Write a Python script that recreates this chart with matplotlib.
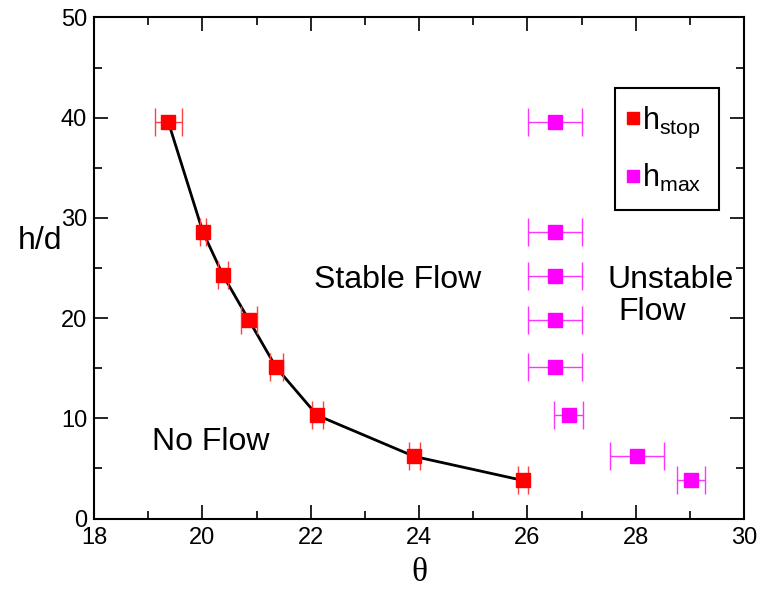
import matplotlib
matplotlib.use('Agg')
import matplotlib.pyplot as plt
from matplotlib.ticker import MultipleLocator
from matplotlib.lines import Line2D

plt.rcParams['font.family'] = ['Liberation Sans', 'DejaVu Sans']
plt.rcParams['mathtext.fontset'] = 'custom'
plt.rcParams['mathtext.rm'] = 'Liberation Sans'

# h_stop data (red)
stop_theta = [19.37, 20.01, 20.38, 20.86, 21.36, 22.12, 23.91, 25.92]
stop_h = [39.6, 28.6, 24.3, 19.8, 15.1, 10.3, 6.2, 3.8]
stop_err = [0.25, 0.06, 0.10, 0.14, 0.12, 0.10, 0.10, 0.10]

# h_max data (magenta)
max_theta = [26.51, 26.51, 26.51, 26.51, 26.51, 26.76, 28.02, 29.02]
max_h = [39.6, 28.6, 24.2, 19.8, 15.1, 10.3, 6.2, 3.8]
max_err = [0.50, 0.50, 0.50, 0.50, 0.50, 0.26, 0.50, 0.26]

fig = plt.figure(figsize=(7.63, 5.93), dpi=100)
ax = fig.add_axes([0.1232, 0.1256, 0.8519, 0.8449])

ax.plot(stop_theta, stop_h, color='black', lw=2, zorder=2)
ax.errorbar(stop_theta, stop_h, xerr=stop_err, fmt='s', color='red', ms=9.5,
            ecolor='#ff4040', elinewidth=1.0, capsize=10, capthick=1.0, zorder=3)
ax.errorbar(max_theta, max_h, xerr=max_err, fmt='s', color='#ff00ff', ms=9.5,
            ecolor='#ff33ff', elinewidth=1.0, capsize=10, capthick=1.0, zorder=3)

ax.set_xlim(18, 30)
ax.set_ylim(0, 50)
ax.xaxis.set_major_locator(MultipleLocator(2))
ax.xaxis.set_minor_locator(MultipleLocator(1))
ax.yaxis.set_major_locator(MultipleLocator(10))
ax.yaxis.set_minor_locator(MultipleLocator(5))
ax.tick_params(which='both', direction='in', top=True, right=True, width=1.2,
               labelsize=17)
ax.tick_params(which='major', length=10)
ax.tick_params(which='minor', length=5.5)
ax.tick_params(axis='x', pad=6)
ax.tick_params(axis='y', pad=5)
for s in ax.spines.values():
    s.set_linewidth(1.5)

ax.set_xlabel('θ', fontsize=24, family=['Liberation Serif', 'DejaVu Serif'], labelpad=6)
fig.text(40 / 763, 1 - 241 / 593, 'h/d', ha='center', va='center', fontsize=23)

ax.text(22.06, 23.0, 'Stable Flow', fontsize=23, va='baseline')
ax.text(19.07, 6.84, 'No Flow', fontsize=23, va='baseline')
ax.text(27.48, 22.97, 'Unstable', fontsize=23, va='baseline')
ax.text(27.68, 19.8, 'Flow', fontsize=23, va='baseline')

handles = [Line2D([], [], ls='none', marker='s', color='red', ms=9),
           Line2D([], [], ls='none', marker='s', color='#ff00ff', ms=8.5)]
labels = [r'$\mathregular{h_{stop}}$', r'$\mathregular{h_{max}}$']
leg = ax.legend(handles, labels, loc='upper left', bbox_to_anchor=(0.8015, 0.859),
                borderaxespad=0, fontsize=22, fancybox=False, framealpha=1,
                edgecolor='black', handlelength=0.1, handletextpad=0.25,
                borderpad=0.55, labelspacing=0.7)
leg.get_frame().set_linewidth(1.5)

fig.savefig('out.png', dpi=100)
